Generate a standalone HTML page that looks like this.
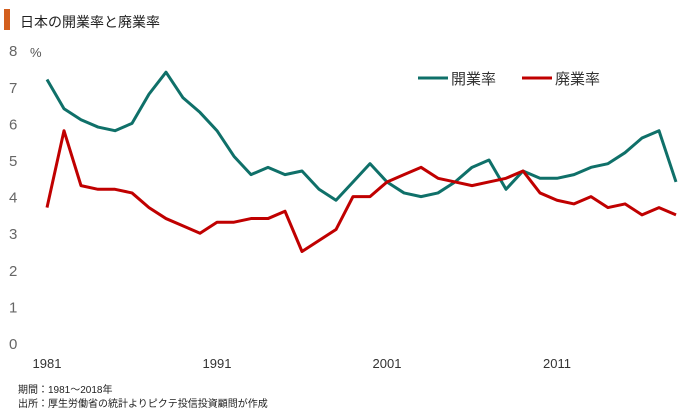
<!DOCTYPE html>
<html><head><meta charset="utf-8"><style>
body{margin:0;background:#fff;width:680px;height:412px;overflow:hidden;font-family:"Liberation Sans","Noto Sans CJK JP",sans-serif}
svg{display:block}
</style></head><body>
<svg id="c" width="680" height="412">
<rect x="4" y="9" width="6" height="21" fill="#d35f1e"/>
<text x="20" y="27" font-size="14" fill="#222">日本の開業率と廃業率</text>
<text x="30" y="57" font-size="13" fill="#555">%</text>
<g id="yt"></g><g id="xt"></g><g id="lines"></g>
<g>
<line x1="418" y1="78" x2="448" y2="78" stroke="#0f7069" stroke-width="3"/>
<text x="451" y="84" font-size="15" fill="#333">開業率</text>
<line x1="522" y1="78" x2="552" y2="78" stroke="#c00000" stroke-width="3"/>
<text x="555" y="84" font-size="15" fill="#333">廃業率</text>
</g>
<text x="18" y="393" font-size="10" fill="#222">期間：1981～2018年</text>
<text x="18" y="407" font-size="10" fill="#222">出所：厚生労働省の統計よりピクテ投信投資顧問が作成</text>
</svg>
<script>
const years=[1981,1982,1983,1984,1985,1986,1987,1988,1989,1990,1991,1992,1993,1994,1995,1996,1997,1998,1999,2000,2001,2002,2003,2004,2005,2006,2007,2008,2009,2010,2011,2012,2013,2014,2015,2016,2017,2018];
const opening=[7.2,6.4,6.1,5.9,5.8,6.0,6.8,7.4,6.7,6.3,5.8,5.1,4.6,4.8,4.6,4.7,4.2,3.9,4.4,4.9,4.4,4.1,4.0,4.1,4.4,4.8,5.0,4.2,4.7,4.5,4.5,4.6,4.8,4.9,5.2,5.6,5.8,4.4];
const closing=[3.7,5.8,4.3,4.2,4.2,4.1,3.7,3.4,3.2,3.0,3.3,3.3,3.4,3.4,3.6,2.5,2.8,3.1,4.0,4.0,4.4,4.6,4.8,4.5,4.4,4.3,4.4,4.5,4.7,4.1,3.9,3.8,4.0,3.7,3.8,3.5,3.7,3.5];
const yTicks=[0,1,2,3,4,5,6,7,8];
const xTicks=[1981,1991,2001,2011];
const ns="http://www.w3.org/2000/svg";
const X=y=>47+(y-1981)*17.0, Y=v=>343-v*36.6;
const yt=document.getElementById('yt'),xt=document.getElementById('xt'),lg=document.getElementById('lines');
yTicks.forEach(v=>{const t=document.createElementNS(ns,'text');t.setAttribute('x',9);t.setAttribute('y',Y(v)+6);t.setAttribute('font-size','15');t.setAttribute('fill','#666');t.textContent=v;


yt.appendChild(t);});
xTicks.forEach(v=>{const t=document.createElementNS(ns,'text');t.setAttribute('x',X(v));t.setAttribute('y',368);t.setAttribute('font-size','13');t.setAttribute('fill','#333');t.setAttribute('text-anchor','middle');t.textContent=v;


xt.appendChild(t);});
[[opening,'#0f7069','opening-line'],[closing,'#c00000','closing-line']].forEach(([d,c,n])=>{
const p=document.createElementNS(ns,'polyline');
p.setAttribute('points',d.map((v,i)=>X(years[i])+','+Y(v)).join(' '));
p.setAttribute('fill','none');p.setAttribute('stroke',c);p.setAttribute('stroke-width','3');p.setAttribute('stroke-linejoin','round');


lg.appendChild(p);});
</script>
</body></html>
